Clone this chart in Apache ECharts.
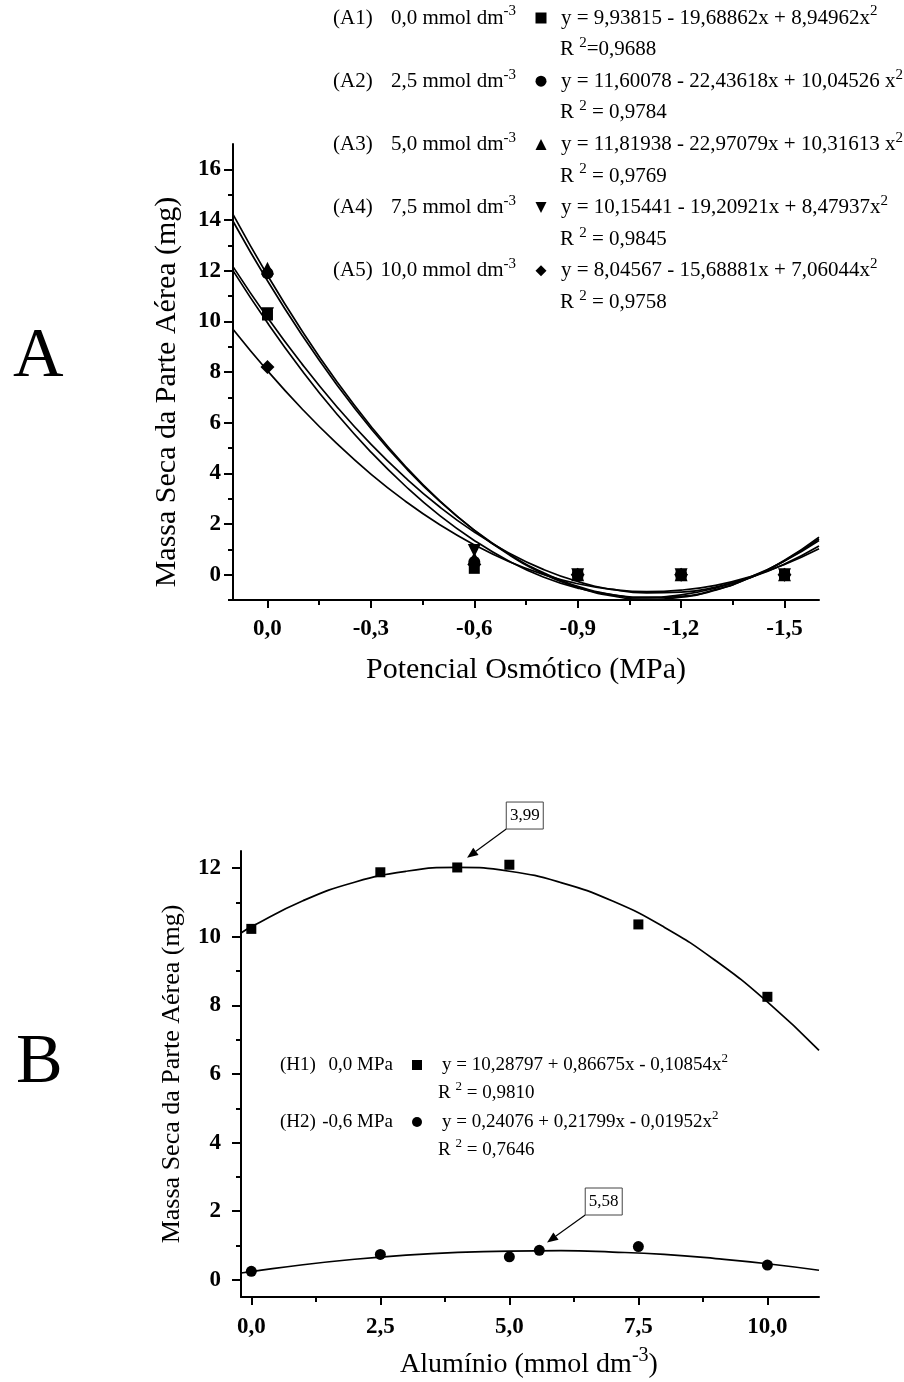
<!DOCTYPE html>
<html>
<head>
<meta charset="utf-8">
<title>Massa Seca da Parte Aérea</title>
<script src="https://cdn.jsdelivr.net/npm/echarts@6/dist/echarts.min.js"></script>
<style>
  html, body { margin: 0; padding: 0; background: #fff; }
  #main { width: 904px; height: 1382px; }
</style>
</head>
<body>
<div id="main"></div>
<script>
// ---- painel A: potencial osmotico (modulo, MPa) ----
var potFit = [-0.1, 0, 0.1, 0.2, 0.3, 0.4, 0.5, 0.6, 0.7, 0.8, 0.9, 1.0, 1.1, 1.2, 1.3, 1.4, 1.5, 1.6];
var fitA1 = [12.00, 9.94, 8.06, 6.36, 4.84, 3.50, 2.33, 1.35, 0.54, -0.09, -0.53, -0.80, -0.89, -0.80, -0.53, -0.09, 0.54, 1.35];
var fitA2 = [13.95, 11.60, 9.46, 7.52, 5.77, 4.23, 2.89, 1.76, 0.82, 0.08, -0.46, -0.79, -0.92, -0.86, -0.59, -0.12, 0.55, 1.42];
var fitA3 = [14.22, 11.82, 9.63, 7.64, 5.86, 4.28, 2.91, 1.75, 0.79, 0.04, -0.50, -0.84, -0.97, -0.89, -0.61, -0.12, 0.57, 1.48];
var fitA4 = [12.16, 10.15, 8.32, 6.65, 5.15, 3.83, 2.67, 1.68, 0.86, 0.21, -0.27, -0.58, -0.72, -0.69, -0.49, -0.12, 0.42, 1.13];
var fitA5 = [9.69, 8.05, 6.55, 5.19, 3.97, 2.90, 1.97, 1.18, 0.52, 0.01, -0.36, -0.58, -0.67, -0.61, -0.42, -0.08, 0.40, 1.02];

var potObs = [0, 0.6, 0.9, 1.2, 1.5];
var obsA1 = [10.25, 0.25, 0, 0, 0];
var obsA2 = [11.90, 0.50, 0, 0, 0];
var obsA3 = [12.10, 0.65, 0, 0, 0];
var obsA4 = [10.30, 0.95, 0, 0, 0];
var obsA5 = [8.20, 0.40, 0, 0, 0];

var potTicks = [0, 0.3, 0.6, 0.9, 1.2, 1.5];
var potMinor = [0.15, 0.45, 0.75, 1.05, 1.35];
var massTicksA = [0, 2, 4, 6, 8, 10, 12, 14, 16];
var massMinorA = [-1, 1, 3, 5, 7, 9, 11, 13, 15];

var legA_id = ['(A1)', '(A2)', '(A3)', '(A4)', '(A5)'];
var legA_conc = ['0,0', '2,5', '5,0', '7,5', '10,0'];
var legA_eq = ['y = 9,93815 - 19,68862x + 8,94962x', 'y = 11,60078 - 22,43618x + 10,04526 x',
               'y = 11,81938 - 22,97079x + 10,31613 x', 'y = 10,15441 - 19,20921x + 8,47937x',
               'y = 8,04567 - 15,68881x + 7,06044x'];
var legA_r2 = ['=0,9688', ' = 0,9784', ' = 0,9769', ' = 0,9845', ' = 0,9758'];
var legA_sym = ['rect', 'circle', 'triangle', 'down', 'diamond'];

// ---- painel B: aluminio (mmol dm-3) ----
var alFit = [-0.2, 0, 1, 2, 3, 4, 5, 6, 7, 8, 9, 10, 11];
var fitH1 = [10.11, 10.29, 11.05, 11.59, 11.91, 12.02, 11.91, 11.58, 11.04, 10.28, 9.30, 8.10, 6.69];
var fitH2 = [0.20, 0.24, 0.44, 0.60, 0.72, 0.80, 0.84, 0.85, 0.81, 0.74, 0.62, 0.47, 0.28];

var alObsH1 = [0, 2.5, 3.99, 5, 7.5, 10];
var obsH1 = [10.23, 11.88, 12.02, 12.10, 10.36, 8.25];
var alObsH2 = [0, 2.5, 5, 5.58, 7.5, 10];
var obsH2 = [0.25, 0.74, 0.67, 0.86, 0.97, 0.43];

var alTicks = [0, 2.5, 5, 7.5, 10];
var alMinor = [1.25, 3.75, 6.25, 8.75];
var massTicksB = [0, 2, 4, 6, 8, 10, 12];
var massMinorB = [1, 3, 5, 7, 9, 11];

var legB_id = ['(H1)', '(H2)'];
var legB_pot = ['0,0 MPa', '-0,6 MPa'];
var legB_eq = ['y = 10,28797 + 0,86675x - 0,10854x', 'y = 0,24076 + 0,21799x - 0,01952x'];
var legB_r2 = [' = 0,9810', ' = 0,7646'];
var legB_sym = ['rect', 'circle'];

// setas (coordenadas em dados): ponta e canto inferior esquerdo da caixa
var annoB = [
  { text: '3,99', tip: [4.18, 12.30], corner: [4.94, 13.14] },
  { text: '5,58', tip: [5.73, 1.09], corner: [6.47, 1.89] }
];

var serif = '"Liberation Serif", "Times New Roman", serif';
var black = '#000';

function pairs(xs, ys) {
  return xs.map(function (x, i) { return [x, ys[i]]; });
}
function fmtPot(v) {
  var s = Math.abs(v).toFixed(1).replace('.', ',');
  return v === 0 ? s : '-' + s;
}
function fmtAl(v) { return v.toFixed(1).replace('.', ','); }
function fmtInt(v) { return String(v); }

var tickLabel = { color: black, fontFamily: serif, fontWeight: 'bold', fontSize: 23 };

function majorAxis(grid, pos, min, max, ticks, fmt, margin, len) {
  return {
    type: 'value', gridIndex: grid, position: pos, min: min, max: max,
    axisLine: { show: true, onZero: false, lineStyle: { color: black, width: 2 } },
    axisTick: { show: true, customValues: ticks, length: len, lineStyle: { color: black, width: 2 } },
    axisLabel: Object.assign({ customValues: ticks, formatter: fmt, margin: margin }, tickLabel),
    splitLine: { show: false }
  };
}
function minorAxis(grid, pos, min, max, ticks) {
  return {
    type: 'value', gridIndex: grid, position: pos, min: min, max: max,
    axisLine: { show: false, onZero: false },
    axisTick: { show: true, customValues: ticks, length: 5, lineStyle: { color: black, width: 2 } },
    axisLabel: { show: false },
    splitLine: { show: false }
  };
}

function fitLine(name, xi, xs, ys) {
  return {
    name: name, type: 'line', xAxisIndex: xi, yAxisIndex: xi, data: pairs(xs, ys),
    showSymbol: false, smooth: true, silent: true,
    lineStyle: { color: black, width: 1.7 }, z: 2
  };
}
function obsPoints(name, xi, xs, ys, sym, size) {
  var s = {
    name: name, type: 'scatter', xAxisIndex: xi, yAxisIndex: xi, data: pairs(xs, ys),
    symbol: sym === 'down' ? 'triangle' : sym, symbolSize: size,
    itemStyle: { color: black, opacity: 1 }, z: 3
  };
  if (sym === 'down') s.symbolRotate = 180;
  return s;
}

var option = {
  animation: false,
  backgroundColor: '#fff',
  grid: [
    { left: 233, right: 85, top: 144, bottom: 782 },
    { left: 241, right: 85, top: 851, bottom: 85 }
  ],
  xAxis: [
    majorAxis(0, 'bottom', -0.1, 1.6, potTicks, fmtPot, 18, 8),
    minorAxis(0, 'bottom', -0.1, 1.6, potMinor),
    majorAxis(1, 'bottom', -0.2, 11, alTicks, fmtAl, 19, 8),
    minorAxis(1, 'bottom', -0.2, 11, alMinor)
  ],
  yAxis: [
    majorAxis(0, 'left', -1, 17, massTicksA, fmtInt, 12, 9),
    minorAxis(0, 'left', -1, 17, massMinorA),
    majorAxis(1, 'left', -0.5, 12.5, massTicksB, fmtInt, 20, 9),
    minorAxis(1, 'left', -0.5, 12.5, massMinorB)
  ],
  series: [
    fitLine('A1 ajuste', 0, potFit, fitA1),
    fitLine('A2 ajuste', 0, potFit, fitA2),
    fitLine('A3 ajuste', 0, potFit, fitA3),
    fitLine('A4 ajuste', 0, potFit, fitA4),
    fitLine('A5 ajuste', 0, potFit, fitA5),
    obsPoints('A1', 0, potObs, obsA1, 'rect', 11),
    obsPoints('A2', 0, potObs, obsA2, 'circle', 12),
    obsPoints('A3', 0, potObs, obsA3, 'triangle', 13),
    obsPoints('A4', 0, potObs, obsA4, 'down', 13),
    obsPoints('A5', 0, potObs, obsA5, 'diamond', 14),
    fitLine('H1 ajuste', 2, alFit, fitH1),
    fitLine('H2 ajuste', 2, alFit, fitH2),
    obsPoints('H1', 2, alObsH1, obsH1, 'rect', 10),
    obsPoints('H2', 2, alObsH2, obsH2, 'circle', 11)
  ]
};

var chart = echarts.init(document.getElementById('main'));
chart.setOption(option);

// ---- textos, legendas e setas ----
function richStyle(fs) {
  var sf = Math.round(fs * 0.7);
  return {
    n: { fontFamily: serif, fontSize: fs, lineHeight: Math.round(fs * 1.35), color: black },
    s: { fontFamily: serif, fontSize: sf, lineHeight: sf, verticalAlign: 'top', color: black }
  };
}
function txt(text, x, y, fs, align, extra) {
  var el = {
    type: 'text', x: x, y: y, silent: true,
    style: { text: text, rich: richStyle(fs), align: align || 'left', verticalAlign: 'middle',
             fontFamily: serif, fontSize: fs, fill: black }
  };
  return Object.assign(el, extra || {});
}
function sym(kind, cx, cy, s) {
  var h = s / 2, st = { fill: black };
  if (kind === 'rect') return { type: 'rect', shape: { x: cx - h, y: cy - h, width: s, height: s }, style: st };
  if (kind === 'circle') return { type: 'circle', shape: { cx: cx, cy: cy, r: h }, style: st };
  var pts;
  if (kind === 'triangle') pts = [[cx, cy - h], [cx + h, cy + h], [cx - h, cy + h]];
  else if (kind === 'down') pts = [[cx - h, cy - h], [cx + h, cy - h], [cx, cy + h]];
  else pts = [[cx, cy - h], [cx + h, cy], [cx, cy + h], [cx - h, cy]];
  return { type: 'polygon', shape: { points: pts }, style: st };
}

var g = [];
var fsA = 21, fsB = 19;

// legenda A
for (var i = 0; i < 5; i++) {
  var yRow = 18 + i * 63.2;
  g.push(txt('{n|' + legA_id[i] + '}', 333, yRow, fsA, 'left'));
  g.push(txt('{n|' + legA_conc[i] + ' mmol dm}{s|-3}', 516, yRow, fsA, 'right'));
  g.push(sym(legA_sym[i], 541, yRow, 11));
  g.push(txt('{n|' + legA_eq[i] + '}{s|2}', 561, yRow, fsA, 'left'));
  g.push(txt('{n|R }{s|2}{n|' + legA_r2[i] + '}', 560, yRow + 31.6, fsA, 'left'));
}

// legenda B
for (var j = 0; j < 2; j++) {
  var yB = 1065 + j * 57;
  g.push(txt('{n|' + legB_id[j] + '}', 280, yB, fsB, 'left'));
  g.push(txt('{n|' + legB_pot[j] + '}', 393, yB, fsB, 'right'));
  g.push(sym(legB_sym[j], 417, yB, 10));
  g.push(txt('{n|' + legB_eq[j] + '}{s|2}', 442, yB, fsB, 'left'));
  g.push(txt('{n|R }{s|2}{n|' + legB_r2[j] + '}', 438, yB + 28.5, fsB, 'left'));
}

// titulos dos eixos
g.push(txt('{n|Massa Seca da Parte Aérea (mg)}', 167, 392, 30, 'center', { rotation: Math.PI / 2 }));
g.push(txt('{n|Potencial Osmótico (MPa)}', 526, 670, 30, 'center'));
g.push(txt('{n|Massa Seca da Parte Aérea (mg)}', 172, 1074, 26, 'center', { rotation: Math.PI / 2 }));
g.push(txt('{n|Alumínio (mmol dm}{s|-3}{n|)}', 529, 1365, 28, 'center'));

// letras dos paineis
g.push(txt('{n|A}', 13, 358, 70, 'left'));
g.push(txt('{n|B}', 16, 1064, 70, 'left'));

// setas com caixa (painel B)
annoB.forEach(function (a) {
  var tip = chart.convertToPixel({ gridIndex: 1 }, a.tip);
  var c = chart.convertToPixel({ gridIndex: 1 }, a.corner);
  var bw = 37, bh = 27;
  var dx = tip[0] - c[0], dy = tip[1] - c[1], len = Math.sqrt(dx * dx + dy * dy);
  var ux = dx / len, uy = dy / len, hl = 11, hw = 4.5;
  var bx = tip[0] - ux * hl, by = tip[1] - uy * hl;
  g.push({ type: 'line', shape: { x1: c[0], y1: c[1], x2: bx, y2: by }, style: { stroke: black, lineWidth: 1.2 } });
  g.push({ type: 'polygon', shape: { points: [[tip[0], tip[1]], [bx - uy * hw, by + ux * hw], [bx + uy * hw, by - ux * hw]] }, style: { fill: black } });
  g.push({ type: 'rect', shape: { x: c[0], y: c[1] - bh, width: bw, height: bh }, style: { fill: '#fff', stroke: '#444', lineWidth: 1 } });
  g.push(txt('{n|' + a.text + '}', c[0] + bw / 2, c[1] - bh / 2, 17, 'center'));
});

chart.setOption({ graphic: { elements: g } });
</script>
</body>
</html>
